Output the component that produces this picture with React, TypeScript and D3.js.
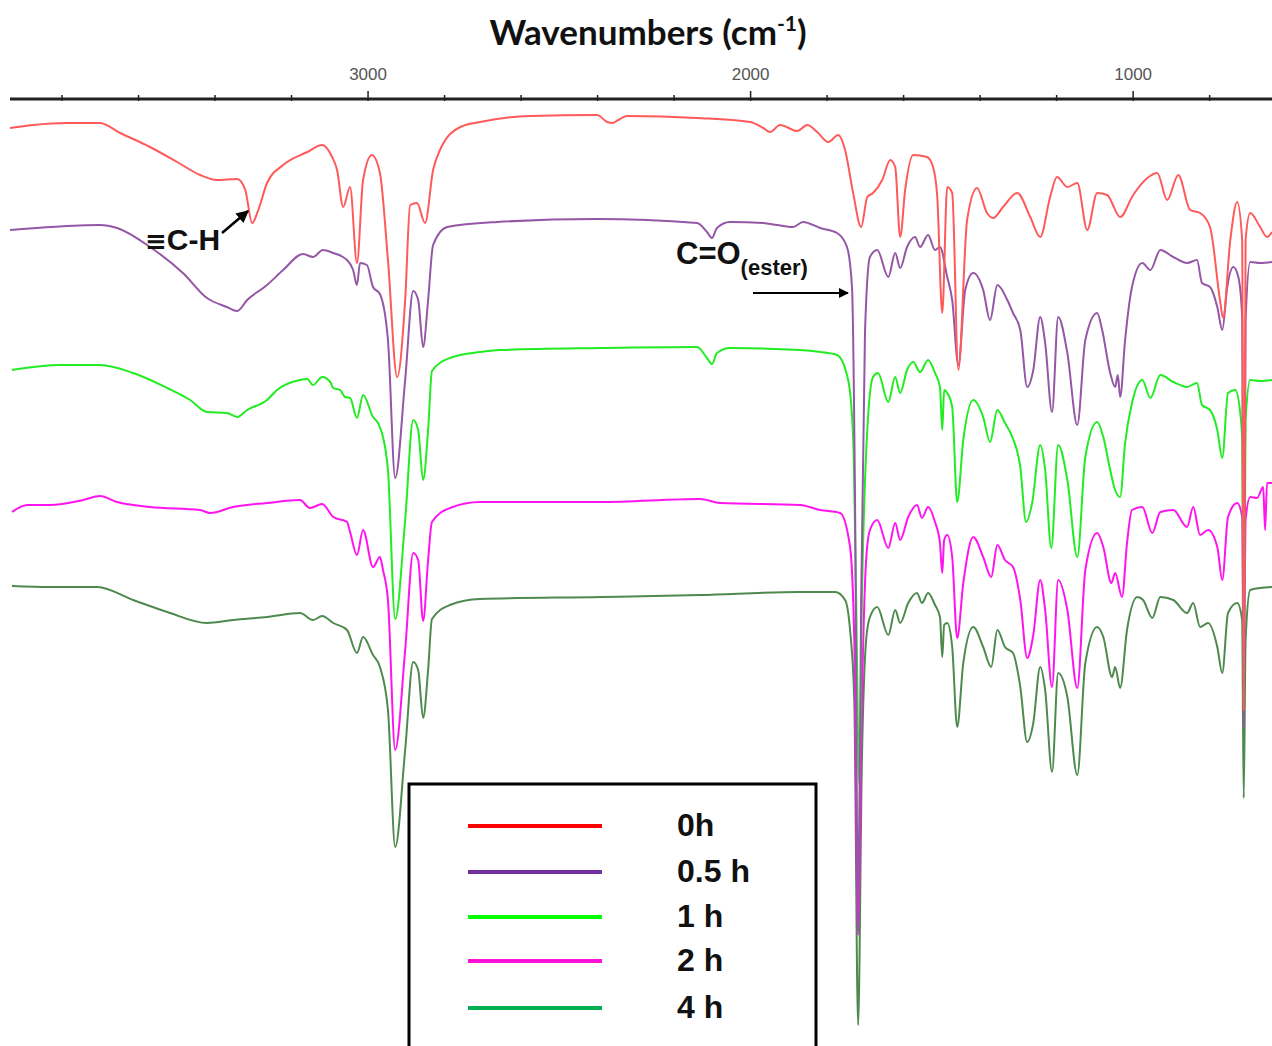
import * as d3 from 'd3';

// FTIR spectra, wavenumber (cm-1) vs stacked transmittance (arbitrary units, offset per curve)
type Pt = [number, number];

const seriesNames = ['0h', '0.5 h', '1 h', '2 h', '4 h'];
const curveColors = ['#ff5a5a', '#9457a6', '#22ec22', '#ff14f0', '#4e8a4e'];
const legendColors = ['#ff0000', '#7030a0', '#00ff00', '#ff10d8', '#00b050'];

const tickValues = [3800, 3600, 3400, 3200, 3000, 2800, 2600, 2400, 2200, 2000, 1800, 1600, 1400, 1200, 1000, 800];
const labeledTicks = [3000, 2000, 1000];

const spectrum0h: Pt[] = [
  [3936, 972], [3876, 975], [3787, 977], [3701, 977], [3648, 967], [3570, 953], [3499, 938], [3439, 925],
  [3395, 920], [3342, 921], [3321, 910], [3303, 877], [3287, 890], [3264, 917], [3222, 935], [3159, 948],
  [3120, 955], [3094, 943], [3081, 930], [3065, 893], [3047, 913], [3029, 837], [3013, 920], [2990, 945],
  [2969, 927], [2948, 840], [2924, 723], [2903, 800], [2890, 895], [2872, 897], [2851, 877], [2830, 930],
  [2812, 950], [2759, 973], [2707, 978], [2576, 984], [2401, 985], [2375, 978], [2362, 977], [2346, 980],
  [2323, 984], [2140, 982], [2001, 978], [1967, 972], [1949, 968], [1923, 975], [1878, 969], [1852, 975],
  [1826, 968], [1797, 958], [1771, 965], [1753, 950], [1732, 907], [1711, 873], [1695, 903], [1680, 907],
  [1656, 920], [1635, 940], [1622, 933], [1609, 863], [1596, 910], [1575, 945], [1539, 943], [1523, 933],
  [1512, 903], [1499, 787], [1486, 913], [1473, 907], [1457, 730], [1434, 880], [1408, 912], [1382, 887],
  [1366, 882], [1340, 893], [1303, 907], [1269, 883], [1243, 863], [1217, 903], [1199, 923], [1172, 913],
  [1146, 917], [1120, 870], [1094, 907], [1068, 905], [1034, 883], [1000, 905], [963, 922], [937, 927],
  [911, 900], [882, 925], [851, 890], [825, 887], [799, 873], [773, 800], [765, 782], [746, 860],
  [728, 898], [715, 860], [711, 390], [706, 860], [694, 887], [668, 873], [650, 863], [637, 868],
];

const spectrum05h: Pt[] = [
  [3936, 870], [3831, 873], [3701, 875], [3656, 872], [3570, 853], [3484, 827], [3421, 802], [3369, 793],
  [3342, 789], [3316, 800], [3264, 815], [3222, 830], [3170, 846], [3144, 843], [3118, 850], [3091, 847],
  [3055, 840], [3039, 830], [3029, 815], [3021, 837], [3003, 835], [2987, 813], [2969, 806], [2948, 760],
  [2929, 622], [2903, 720], [2882, 809], [2869, 800], [2856, 753], [2843, 800], [2830, 855], [2793, 873],
  [2663, 878], [2401, 881], [2140, 877], [2114, 868], [2101, 862], [2088, 872], [2054, 878], [1967, 877],
  [1931, 875], [1889, 873], [1863, 878], [1818, 872], [1774, 867], [1748, 853], [1735, 813], [1727, 600],
  [1719, 170], [1711, 500], [1701, 767], [1688, 843], [1669, 850], [1640, 823], [1622, 847], [1609, 832],
  [1591, 853], [1570, 863], [1557, 853], [1536, 865], [1518, 850], [1505, 853], [1486, 823], [1473, 800],
  [1457, 735], [1439, 810], [1418, 827], [1392, 810], [1374, 780], [1355, 815], [1329, 800], [1314, 787],
  [1295, 770], [1277, 713], [1261, 730], [1243, 783], [1230, 757], [1212, 688], [1196, 783], [1172, 747],
  [1146, 675], [1125, 760], [1094, 787], [1081, 770], [1060, 727], [1047, 713], [1040, 725], [1034, 703],
  [1021, 760], [1003, 813], [976, 837], [955, 830], [929, 850], [895, 843], [859, 837], [833, 840],
  [820, 817], [799, 813], [780, 793], [767, 770], [754, 813], [738, 833], [725, 823], [715, 783],
  [711, 372], [706, 780], [694, 838], [668, 837], [637, 838],
];

const spectrum1h: Pt[] = [
  [3931, 730], [3805, 735], [3701, 735], [3614, 727], [3525, 712], [3465, 700], [3421, 688], [3369, 687],
  [3342, 683], [3316, 690], [3264, 700], [3238, 710], [3178, 720], [3159, 721], [3144, 715], [3120, 723],
  [3099, 718], [3091, 712], [3073, 710], [3060, 703], [3047, 702], [3029, 682], [3013, 705], [2987, 683],
  [2974, 677], [2961, 663], [2948, 630], [2929, 481], [2903, 580], [2882, 680], [2869, 670], [2856, 620],
  [2843, 670], [2833, 729], [2786, 742], [2707, 748], [2655, 750], [2393, 752], [2140, 753], [2114, 742],
  [2101, 736], [2088, 747], [2054, 752], [1871, 750], [1818, 748], [1774, 745], [1745, 720], [1732, 663],
  [1724, 500], [1716, 316], [1709, 500], [1695, 670], [1680, 723], [1667, 727], [1640, 698], [1622, 723],
  [1609, 707], [1591, 730], [1575, 738], [1557, 728], [1536, 740], [1518, 727], [1505, 713], [1499, 670],
  [1494, 710], [1486, 707], [1473, 693], [1460, 598], [1444, 660], [1418, 700], [1392, 683], [1374, 658],
  [1355, 690], [1335, 677], [1316, 663], [1295, 633], [1280, 578], [1264, 597], [1243, 655], [1230, 630],
  [1214, 552], [1196, 655], [1172, 620], [1146, 543], [1125, 643], [1094, 678], [1078, 663], [1060, 630],
  [1047, 610], [1034, 603], [1021, 657], [1003, 697], [976, 720], [955, 702], [929, 725], [895, 718],
  [859, 713], [833, 717], [820, 695], [799, 690], [780, 670], [767, 642], [752, 707], [733, 710],
  [720, 687], [715, 660], [711, 400], [706, 680], [694, 720], [668, 719], [637, 720],
];

const spectrum2h: Pt[] = [
  [3931, 588], [3891, 595], [3831, 595], [3745, 600], [3701, 604], [3656, 598], [3570, 593], [3439, 590],
  [3413, 587], [3353, 593], [3264, 597], [3178, 600], [3152, 592], [3120, 596], [3091, 583], [3055, 578],
  [3047, 568], [3029, 545], [3013, 570], [2987, 533], [2969, 543], [2961, 530], [2948, 500], [2929, 350],
  [2903, 450], [2882, 547], [2869, 540], [2856, 479], [2843, 540], [2833, 578], [2786, 592], [2707, 598],
  [2393, 598], [2132, 601], [2080, 597], [1871, 595], [1818, 590], [1766, 587], [1740, 553], [1729, 460],
  [1719, 165], [1709, 400], [1698, 540], [1688, 570], [1669, 580], [1640, 552], [1622, 577], [1609, 560],
  [1588, 583], [1565, 595], [1552, 582], [1536, 593], [1518, 578], [1505, 557], [1499, 527], [1494, 560],
  [1486, 565], [1473, 543], [1460, 462], [1444, 517], [1418, 563], [1392, 543], [1371, 523], [1355, 555],
  [1335, 540], [1314, 533], [1295, 500], [1277, 442], [1261, 465], [1243, 520], [1230, 490], [1212, 413],
  [1196, 520], [1172, 490], [1146, 412], [1125, 530], [1094, 567], [1078, 553], [1057, 517], [1047, 527],
  [1029, 503], [1016, 557], [1003, 590], [976, 593], [950, 567], [929, 588], [895, 590], [859, 573],
  [843, 593], [825, 565], [804, 570], [780, 553], [767, 520], [752, 583], [728, 597], [715, 583],
  [711, 400], [706, 580], [694, 603], [676, 602], [660, 613], [655, 570], [650, 617], [637, 617],
];

const spectrum4h: Pt[] = [
  [3931, 514], [3831, 513], [3708, 513], [3614, 500], [3525, 488], [3421, 477], [3353, 480], [3264, 483],
  [3178, 487], [3144, 480], [3120, 484], [3091, 477], [3055, 470], [3029, 447], [3013, 463], [2987, 445],
  [2969, 433], [2948, 390], [2929, 253], [2903, 350], [2882, 438], [2869, 430], [2856, 382], [2843, 430],
  [2833, 481], [2786, 495], [2707, 501], [2393, 503], [2132, 505], [1871, 508], [1779, 508], [1753, 500],
  [1740, 470], [1729, 400], [1719, 75], [1709, 340], [1698, 460], [1688, 483], [1669, 493], [1640, 465],
  [1622, 490], [1609, 477], [1588, 497], [1565, 507], [1552, 497], [1536, 507], [1518, 495], [1505, 483],
  [1499, 443], [1494, 475], [1486, 477], [1473, 453], [1460, 373], [1444, 437], [1418, 473], [1392, 453],
  [1371, 433], [1355, 470], [1335, 453], [1314, 447], [1295, 413], [1277, 358], [1261, 377], [1243, 433],
  [1230, 410], [1212, 328], [1196, 427], [1172, 403], [1146, 325], [1125, 437], [1094, 473], [1078, 463],
  [1055, 423], [1047, 433], [1034, 412], [1016, 470], [989, 503], [974, 500], [950, 482], [929, 503],
  [895, 500], [859, 487], [843, 497], [825, 473], [804, 477], [780, 453], [767, 427], [752, 487],
  [728, 497], [715, 480], [711, 302], [706, 460], [694, 510], [668, 512], [637, 513],
];

const spectra = [spectrum0h, spectrum05h, spectrum1h, spectrum2h, spectrum4h];

const W = 1272;
const H = 1046;

export default function App() {
  const x = d3.scaleLinear().domain([3936, 637]).range([10, 1272]);
  const y = d3.scaleLinear().domain([0, 1000]).range([1100, 100]);

  const line = d3
    .line<Pt>()
    .x((d) => x(d[0]))
    .y((d) => y(d[1]))
    .curve(d3.curveMonotoneX);

  const axisY = 99;
  const legendX = 409;
  const legendY = 784;
  const legendRows = [826, 872, 917, 961, 1008];

  // draw later times first so the 0h trace sits on top
  const order = [4, 3, 2, 1, 0];

  return (
    <div style={{ position: 'absolute', left: 0, top: 0 }}>
      <svg width={W} height={H} viewBox={`0 0 ${W} ${H}`} style={{ display: 'block', background: '#fff' }}>
        <defs>
          <marker id="arr" viewBox="0 0 10 10" refX="9" refY="5" markerWidth="5" markerHeight="5" orient="auto">
            <path d="M0,0 L10,5 L0,10 z" fill="#000" />
          </marker>
        </defs>

        {/* title */}
        <text
          x={648}
          y={45}
          textAnchor="middle"
          fontFamily="Lato, 'Open Sans', sans-serif"
          fontWeight="bold"
          fontSize={35}
          fill="#111"
        >
          Wavenumbers (cm
          <tspan fontSize={21} dy={-14}>-1</tspan>
          <tspan dy={14}>)</tspan>
        </text>

        {/* top axis */}
        <line x1={10} x2={1272} y1={axisY} y2={axisY} stroke="#222" strokeWidth={3} />
        {tickValues.map((t) => {
          const major = labeledTicks.includes(t);
          return (
            <line
              key={t}
              x1={x(t)}
              x2={x(t)}
              y1={axisY - (major ? 8 : 4)}
              y2={axisY + 2}
              stroke="#222"
              strokeWidth={1.5}
            />
          );
        })}
        {labeledTicks.map((t) => (
          <text
            key={t}
            x={x(t)}
            y={80}
            textAnchor="middle"
            fontFamily="'Liberation Sans', Arial, sans-serif"
            fontSize={17}
            fill="#555"
          >
            {t}
          </text>
        ))}

        {/* spectra */}
        {order.map((i) => (
          <path
            key={seriesNames[i]}
            d={line(spectra[i]) ?? ''}
            fill="none"
            stroke={curveColors[i]}
            strokeWidth={2}
            strokeLinejoin="round"
          />
        ))}

        {/* annotations */}
        <text x={145} y={250} fontFamily="'Liberation Sans', Arial, sans-serif" fontWeight="bold" fontSize={30} fill="#111">
          <tspan fontFamily="'DejaVu Sans', sans-serif" fontSize={26}>≡</tspan>C-H
        </text>
        <line x1={222} y1={233} x2={248} y2={211} stroke="#000" strokeWidth={2.5} markerEnd="url(#arr)" />

        <text x={676} y={264} fontFamily="'Liberation Sans', Arial, sans-serif" fontWeight="bold" fontSize={31} fill="#111">
          C=O
          <tspan fontSize={22} dy={11}>(ester)</tspan>
        </text>
        <line x1={753} y1={293} x2={848} y2={293} stroke="#000" strokeWidth={2} markerEnd="url(#arr)" />

        {/* legend */}
        <rect x={legendX} y={legendY} width={407} height={400} fill="#fff" stroke="#000" strokeWidth={3} />
        {seriesNames.map((name, i) => (
          <g key={name}>
            <line x1={468} x2={602} y1={legendRows[i]} y2={legendRows[i]} stroke={legendColors[i]} strokeWidth={4} />
            <text
              x={677}
              y={legendRows[i] + 10}
              fontFamily="'Liberation Sans', Arial, sans-serif"
              fontWeight="bold"
              fontSize={32}
              fill="#111"
            >
              {name}
            </text>
          </g>
        ))}
      </svg>
    </div>
  );
}
